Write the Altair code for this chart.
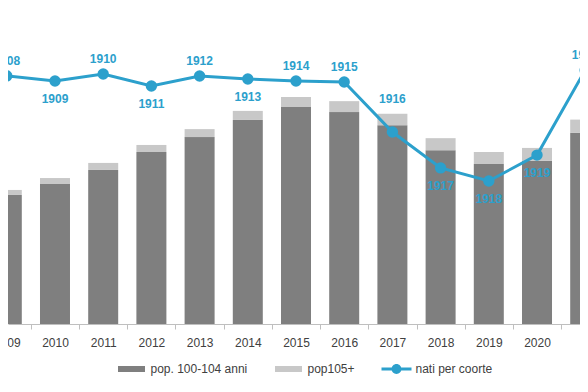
import altair as alt
import pandas as pd

# ---- data ----
years = list(range(2009, 2022))
pop_100_104 = [10840, 11760, 12940, 14450, 15700, 17140, 18230, 17800, 16700, 14600, 13440, 13700, 16060]
pop_105_plus = [420, 500, 590, 590, 670, 760, 840, 920, 960, 1010, 1010, 1090, 1110]
cohorts = [str(y) for y in range(1908, 1921)]
births = [1141000, 1118000, 1150000, 1095000, 1141000, 1127000, 1118000, 1113000,
          883000, 718000, 658000, 777000, 1168000]
label_place = ["above", "below", "above", "below", "above", "below", "above",
               "above", "high", "below", "below", "below", "above"]

series_names = ["pop. 100-104 anni", "pop105+", "nati per coorte"]
series_colors = ["#7F7F7F", "#C8C8C8", "#2CA0CC"]
BLUE = "#2CA0CC"
FONT = "Liberation Sans"

bars_df = pd.DataFrame(
    [{"year": y, "series": series_names[0], "value": v, "ord": 0} for y, v in zip(years, pop_100_104)]
    + [{"year": y, "series": series_names[1], "value": v, "ord": 1} for y, v in zip(years, pop_105_plus)]
)
line_df = pd.DataFrame({"year": years, "births": births, "cohort": cohorts, "place": label_place})

W, H = 572, 316
x_min, x_max = 2009.025, 2020.892
step = W / (x_max - x_min)
# ticks sit between the years; each label is pulled back onto its year
tick_vals = [y + 0.5 for y in years]

x_enc = alt.X(
    "year:Q",
    scale=alt.Scale(domain=[x_min, x_max], nice=False, zero=False, padding=0),
    axis=alt.Axis(
        values=tick_vals, labelExpr="format(datum.value - 0.5, 'd')", title=None, grid=False,
        labelOffset=-step / 2, labelFlush=False,
        labelOverlap=False, tickSize=5, tickColor="#BFBFBF", domainColor="#BFBFBF",
        labelColor="#404040", labelFontSize=12, labelFont=FONT, labelPadding=8,
    ),
)

rect_path = "M-0.9,-0.2H0.9V0.2H-0.9Z"
line_path = "M-1,-0.1H1V0.1H-1Z M0.33,0A0.33,0.33 0 1,1 -0.33,0A0.33,0.33 0 1,1 0.33,0Z"

bars = alt.Chart(bars_df).mark_bar(size=30).encode(
    x=x_enc,
    y=alt.Y("value:Q", stack="zero", scale=alt.Scale(domain=[0, 26544], nice=False), axis=None),
    color=alt.Color(
        "series:N",
        scale=alt.Scale(domain=series_names, range=series_colors),
        legend=alt.Legend(
            title=None, orient="none", legendX=108.5, legendY=346, direction="horizontal",
            symbolType={"expr": f"datum.value == 'nati per coorte' ? '{line_path}' : '{rect_path}'"},
            symbolSize=900, symbolStrokeWidth=0, symbolOpacity=1,
            labelFont=FONT, labelFontSize=12, labelColor="#404040",
            labelOffset=4, columnPadding=26,
        ),
    ),
    order=alt.Order("ord:Q"),
)

y_line = alt.Y("births:Q", scale=alt.Scale(domain=[0, 1453600], nice=False), axis=None)

base = alt.Chart(line_df).encode(x=x_enc, y=y_line)
line = base.mark_line(color=BLUE, strokeWidth=3)
pts = base.mark_circle(color=BLUE, size=130, opacity=1)

def lab(place, dy):
    return base.transform_filter(alt.datum.place == place).mark_text(
        color=BLUE, fontWeight="bold", fontSize=12, font=FONT, dy=dy, baseline="middle"
    ).encode(text="cohort:N")

chart = alt.layer(
    bars,
    alt.layer(line, pts, lab("above", -15), lab("below", 18), lab("high", -33)),
).resolve_scale(y="independent").properties(
    width=W, height=H,
    autosize=alt.AutoSizeParams(type="none"),
    padding={"left": 0, "top": 0, "right": 0, "bottom": 56},
).configure_view(stroke=None)

chart.save("out.html", embed_options={"renderer": "svg", "actions": False})
